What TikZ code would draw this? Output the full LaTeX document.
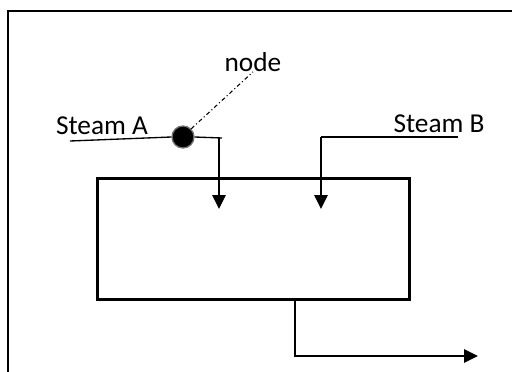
\documentclass[tikz,border=0pt]{standalone}
\usepackage{fontspec}
\setmainfont{Carlito}
\usetikzlibrary{arrows.meta}

\begin{document}
\begin{tikzpicture}[x=0.75pt, y=-0.75pt,
        pipe/.style={line width=1pt},
        flow/.style={line width=1.3pt, -{Triangle[length=10.5pt, width=10pt]}},
        lbl/.style={font=\fontsize{20.5}{24}\selectfont, inner sep=0pt}]
        \useasboundingbox (0,0) rectangle (512,372);
        \draw[line width=1.1pt] (8,372) -- (8,11) -- (512,11);
        \node[draw, line width=2.6pt, minimum width=234pt, minimum height=91pt] (tank) at (253.5,239) {};
        \node[circle, fill=black, draw=black!55, line width=1pt, minimum size=16.5pt, inner sep=0pt] (junction) at (183,137) {};
        \node[lbl] (labelA) at (102,126) {Steam A};
        \node[lbl] (labelB) at (439,124) {Steam B};
        \node[lbl] (labelNode) at (253,62) {node};
        \coordinate (aStart) at (70,141);
        \coordinate (aTurn) at (219,138);
        \coordinate (aEnd) at (219,209);
        \coordinate (bStart) at (458,137);
        \coordinate (bTurn) at (321,137);
        \coordinate (bEnd) at (321,209);
        \coordinate (outTurn) at (295,356);
        \coordinate (outEnd) at (478,356);
        \draw[pipe] (aStart) -- (junction.west);
        \draw[pipe] (junction.east) -- (222,138);
        \draw[flow] (aTurn) -- (aEnd);
        \draw[pipe] (bStart) -- (bTurn);
        \draw[flow] (bTurn) -- (bEnd);
        \draw[line width=0.8pt, dash dot] (junction.north east) -- (labelNode.south);
        \draw[flow] (tank.south -| outTurn) -- (outTurn) -- (outEnd);
\end{tikzpicture}
\end{document}
